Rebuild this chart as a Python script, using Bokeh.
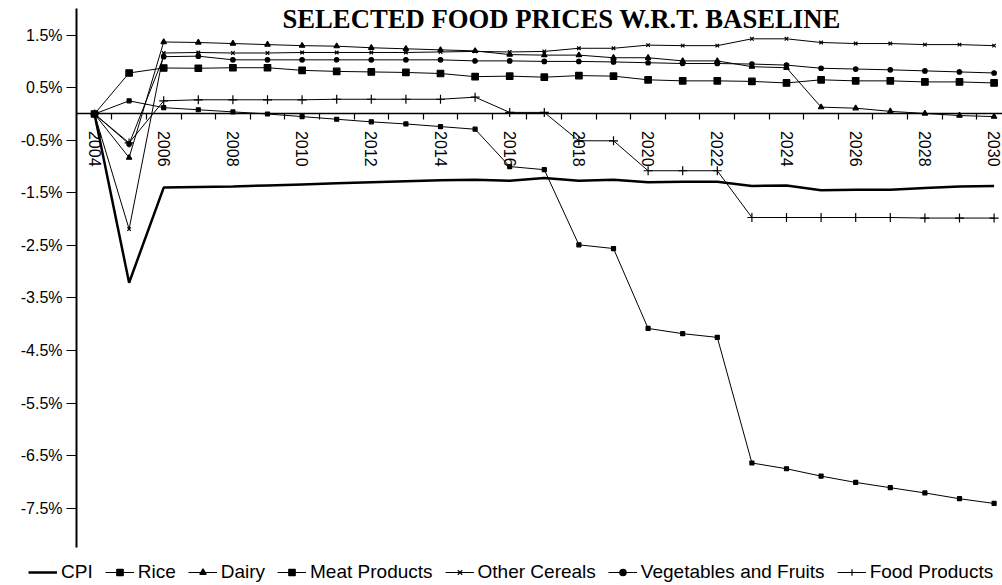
import numpy as np
from bokeh.plotting import figure
from bokeh.models import (FixedTicker, PrintfTickFormatter, CustomJSTickFormatter, Legend,
                          LegendItem, Label, LinearAxis)
from bokeh.embed import file_html
from bokeh.resources import INLINE

years = list(range(2004, 2031))

cpi = [0, -3.21, -1.40, -1.39, -1.38, -1.36, -1.34, -1.32, -1.30, -1.28, -1.26, -1.25, -1.27,
       -1.22, -1.27, -1.25, -1.30, -1.29, -1.29, -1.37, -1.36, -1.45, -1.44, -1.44, -1.41, -1.38, -1.37]
rice = [0, 0.25, 0.12, 0.08, 0.04, 0.0, -0.05, -0.10, -0.15, -0.19, -0.24, -0.29, -1.00,
        -1.06, -2.49, -2.56, -4.08, -4.18, -4.25, -6.64, -6.75, -6.89, -7.01, -7.11, -7.21, -7.32, -7.41]
dairy = [0, -0.83, 1.37, 1.36, 1.34, 1.32, 1.30, 1.29, 1.26, 1.24, 1.22, 1.20, 1.13,
         1.12, 1.12, 1.07, 1.07, 1.01, 1.01, 0.90, 0.88, 0.13, 0.11, 0.05, 0.01, -0.03, -0.05]
meat = [0, 0.78, 0.875, 0.87, 0.88, 0.88, 0.83, 0.81, 0.80, 0.79, 0.77, 0.71, 0.72,
        0.70, 0.73, 0.72, 0.65, 0.63, 0.63, 0.62, 0.59, 0.65, 0.63, 0.63, 0.61, 0.61, 0.59]
other_cereals = [0, -2.19, 1.16, 1.17, 1.16, 1.16, 1.17, 1.17, 1.17, 1.17, 1.18, 1.19, 1.18,
                 1.19, 1.25, 1.25, 1.31, 1.30, 1.30, 1.43, 1.43, 1.36, 1.34, 1.34, 1.32, 1.32, 1.30]
veg_fruits = [0, -0.57, 1.09, 1.10, 1.03, 1.03, 1.03, 1.03, 1.03, 1.03, 1.03, 1.01, 1.01,
              1.00, 1.00, 0.99, 0.975, 0.96, 0.96, 0.95, 0.93, 0.87, 0.855, 0.84, 0.82, 0.80, 0.78]
food_products = [0, -0.55, 0.25, 0.27, 0.27, 0.27, 0.27, 0.28, 0.28, 0.28, 0.28, 0.32, 0.03,
                 0.03, -0.51, -0.51, -1.08, -1.08, -1.08, -1.97, -1.97, -1.97, -1.97, -1.97, -1.98, -1.98, -1.98]

y_ticks = [1.5, 0.5, -0.5, -1.5, -2.5, -3.5, -4.5, -5.5, -6.5, -7.5]
x_label_years = years[::2]
title_text = "SELECTED FOOD PRICES W.R.T. BASELINE"

X0, X1 = 2001.283, 2030.243     # visible span of the category axis (years)
AXIS_X = 2003.48                 # where the value axis crosses (half a category before 2004)

p = figure(width=1002, height=585, x_range=(X0, X1), y_range=(-8.971, 2.159),
           output_backend="svg", toolbar_location=None,
           x_axis_location=None, y_axis_location=None,
           min_border_left=0, min_border_right=0, min_border_top=0, min_border_bottom=0)
p.grid.visible = False
p.outline_line_color = None
p.background_fill_color = "white"
p.border_fill_color = "white"

# value axis, drawn at the left edge of the plotting area
yax = LinearAxis(fixed_location=AXIS_X, bounds=(-8.25, 2.0),
                 ticker=FixedTicker(ticks=y_ticks),
                 formatter=PrintfTickFormatter(format="%.1f%%"))
yax.major_tick_out = 10
yax.major_tick_in = 0
yax.minor_tick_out = 0
yax.minor_tick_in = 0
yax.axis_line_width = 2
yax.axis_line_color = "black"
yax.major_tick_line_color = "black"
yax.major_label_text_font = "Liberation Sans"
yax.major_label_text_font_size = "16px"
yax.major_label_text_color = "black"
yax.major_label_standoff = 4
p.add_layout(yax, "left")

# category axis crossing at zero: tick marks between categories
bounds = [y + 0.5 for y in years[:-1]]
xtick_ax = LinearAxis(fixed_location=0, bounds=(AXIS_X, X1),
                      ticker=FixedTicker(ticks=bounds),
                      formatter=CustomJSTickFormatter(code="return ''"))
xtick_ax.major_tick_out = 6
xtick_ax.major_tick_in = 0
xtick_ax.minor_tick_out = 0
xtick_ax.minor_tick_in = 0
xtick_ax.axis_line_width = 1.5
xtick_ax.axis_line_color = "black"
xtick_ax.major_tick_line_color = "black"
xtick_ax.major_tick_line_width = 1.2
p.add_layout(xtick_ax, "below")

# category labels (every second year), rotated
xlab_ax = LinearAxis(fixed_location=0, bounds=(AXIS_X, X1),
                     ticker=FixedTicker(ticks=x_label_years),
                     formatter=PrintfTickFormatter(format="%d"))
xlab_ax.axis_line_color = None
xlab_ax.major_tick_line_color = None
xlab_ax.minor_tick_line_color = None
xlab_ax.major_tick_out = 0
xlab_ax.major_tick_in = 0
xlab_ax.minor_tick_out = 0
xlab_ax.minor_tick_in = 0
xlab_ax.major_label_orientation = "vertical"
xlab_ax.major_label_standoff = 17
xlab_ax.major_label_text_font = "Liberation Sans"
xlab_ax.major_label_text_font_size = "16px"
xlab_ax.major_label_text_color = "black"
p.add_layout(xlab_ax, "below")

series = [
    ("Rice", rice, "square", 4),
    ("Dairy", dairy, "triangle", 5.5),
    ("Meat Products", meat, "square", 6.5),
    ("Other Cereals", other_cereals, "x", 5),
    ("Vegetables and Fruits", veg_fruits, "circle", 4.5),
    ("Food Products", food_products, "cross", 9),
]

items = []
r_cpi = p.line(years, cpi, line_color="black", line_width=2.5)
items.append(LegendItem(label="CPI", renderers=[r_cpi]))
for name, data, marker, size in series:
    rl = p.line(years, data, line_color="black", line_width=1)
    rs = p.scatter(years, data, marker=marker, size=size, fill_color="black",
                   line_color="black", line_width=1.2)
    items.append(LegendItem(label=name, renderers=[rl, rs]))

legend = Legend(items=items, orientation="horizontal", location=(28, 2),
                label_text_font="Liberation Sans", label_text_font_size="19px",
                label_text_color="black",
                glyph_width=29, glyph_height=16, label_standoff=4, spacing=12,
                padding=0, margin=0, border_line_color=None, background_fill_alpha=0)
p.add_layout(legend, "center")

p.add_layout(Label(x=2017.5, y=1.80, text=title_text, text_align="center",
                   text_baseline="middle", text_font="Liberation Serif",
                   text_font_style="bold", text_font_size="26.7px", text_color="black"))

open("out.html", "w").write(file_html(p, INLINE))
